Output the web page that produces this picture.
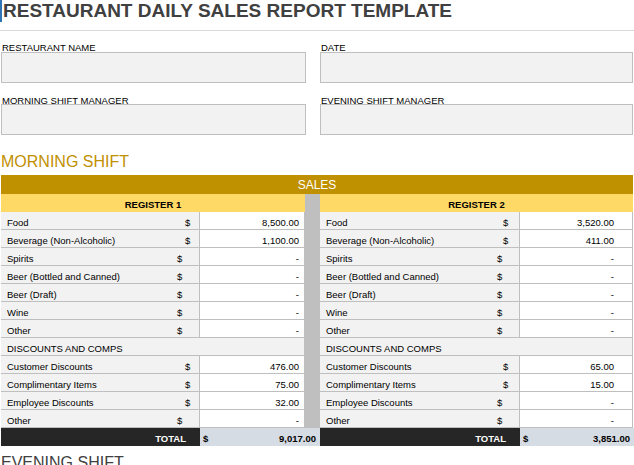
<!DOCTYPE html>
<html><head><meta charset="utf-8">
<script src="https://cdn.jsdelivr.net/npm/chart.js@4"></script>
<style>
body{margin:0;width:634px;height:465px;overflow:hidden;background:#fff;font-family:"Liberation Sans",Arial,sans-serif;position:relative;color:#000}
.a{position:absolute;box-sizing:border-box}
.box{background:#f2f2f2;border:1px solid #bfbfbf}
.lbl{font-size:9.5px}
.cell{font-size:9.5px;border-right:1px solid #bfbfbf;border-bottom:1px solid #bfbfbf;line-height:21px;white-space:nowrap;overflow:visible}
</style></head><body>
<div class="a" style="left:0;top:0;width:2px;height:22px;background:#2f75b5"></div>
<div class="a" style="left:3px;top:0;font-size:19px;font-weight:bold;color:#404040">RESTAURANT DAILY SALES REPORT TEMPLATE</div>
<div class="a" style="left:0;top:30px;width:634px;height:1px;background:#d9d9d9"></div>
<div class="a lbl" style="left:2px;top:42px">RESTAURANT NAME</div>
<div class="a lbl" style="left:321px;top:42px">DATE</div>
<div class="a box" style="left:1px;top:52px;width:305px;height:31px"></div>
<div class="a box" style="left:320px;top:52px;width:313px;height:31px"></div>
<div class="a lbl" style="left:2px;top:95px">MORNING SHIFT MANAGER</div>
<div class="a lbl" style="left:321px;top:95px">EVENING SHIFT MANAGER</div>
<div class="a box" style="left:1px;top:104px;width:305px;height:31px"></div>
<div class="a box" style="left:320px;top:104px;width:313px;height:31px"></div>
<div class="a" style="left:1px;top:153px;font-size:16px;color:#bf9000">MORNING SHIFT</div>
<div class="a" style="left:1px;top:175px;width:632px;height:19px;background:#bf9000;color:#fff;font-size:12px;text-align:center;line-height:21px">SALES</div>
<div class="a" style="left:305px;top:194px;width:15px;height:252px;background:#bfbfbf"></div>
<div id="t"></div>
<div class="a" style="left:1px;top:454px;font-size:16px;color:#404040">EVENING SHIFT</div>
<script>
const registers=["REGISTER 1","REGISTER 2"];
const salesItems=["Food","Beverage (Non-Alcoholic)","Spirits","Beer (Bottled and Canned)","Beer (Draft)","Wine","Other"];
const discountItems=["Customer Discounts","Complimentary Items","Employee Discounts","Other"];
const register1Sales=[8500,1100,0,0,0,0,0];
const register2Sales=[3520,411,0,0,0,0,0];
const register1Discounts=[476,75,32,0];
const register2Discounts=[65,15,0,0];
const totals=[9017,3851];
const fmt=v=>v?v.toLocaleString("en-US",{minimumFractionDigits:2,maximumFractionDigits:2}):"-";
const t=document.getElementById("t");
function add(x,y,w,h,html,style){const d=document.createElement("div");d.className="a cell";d.style.cssText=`left:${x}px;top:${y}px;width:${w}px;height:${h}px;`+(style||"");d.innerHTML=html;t.appendChild(d);}
const cols=[{x:1,lw:199,vw:105,dol:[192,184]},{x:320,lw:200,vw:113,dol:[191,185]}];
const sales=[register1Sales,register2Sales],disc=[register1Discounts,register2Discounts];
cols.forEach((c,i)=>{
  add(c.x,194,c.lw+c.vw,18,registers[i],"background:#ffd966;font-weight:bold;text-align:center;border:none");
  const rows=[];
  salesItems.forEach((n,k)=>rows.push([n,sales[i][k],k<2]));
  rows.push(null);
  discountItems.forEach((n,k)=>rows.push([n,disc[i][k],disc[i][k]>0]));
  rows.forEach((r,k)=>{
    const y=212+k*18;
    if(!r){add(c.x,y,c.lw+c.vw,18,"<span style='padding-left:6px'>DISCOUNTS AND COMPS</span>","background:#f2f2f2");return;}
    const dx=r[2]?c.dol[0]:c.dol[1];
    add(c.x,y,c.lw,18,`<span style="padding-left:6px">${r[0]}</span><span style="position:absolute;left:${dx-8}px">$</span>`,"background:#f2f2f2");
    add(c.x+c.lw,y,c.vw,18,fmt(r[1]),"background:#fff;text-align:right;padding-right:"+(i?18:5)+"px");
  });
  const y=428;
  add(c.x,y,c.lw,18,"TOTAL","background:#262626;color:#fff;font-weight:bold;text-align:right;padding-right:14px;border:none");
  add(c.x+c.lw,y,i?114:120,18,`<span style="padding-left:3px;font-weight:bold">$</span><span style="position:absolute;right:4px;font-weight:bold">${fmt(totals[i])}</span>`,"background:#d6dce4;border:none");
});
</script>
</body></html>
